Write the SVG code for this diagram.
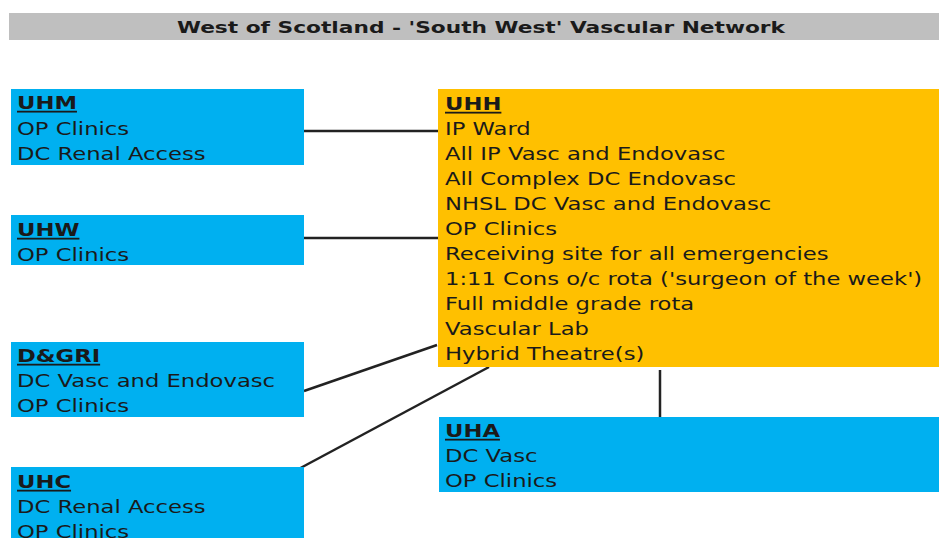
<svg xmlns="http://www.w3.org/2000/svg" width="939" height="538" viewBox="0 0 939 538">
<style>
.blue{fill:#00B0F0}
.orange{fill:#FFC000}
.t{font-family:"DejaVu Sans",Verdana,sans-serif;font-size:18px;fill:#1a1a1a}
.h{font-weight:bold;text-decoration:underline}
.c{stroke:#222;stroke-width:2.5;fill:none}
</style>
<rect x="0" y="0" width="939" height="538" fill="#fff"/>
<g id="title">
<rect x="9" y="13" width="930" height="27" fill="#BFBFBF"/>
<text x="481" y="33" text-anchor="middle" font-family="'DejaVu Sans',sans-serif" font-weight="bold" font-size="16" fill="#1a1a1a" textLength="608" lengthAdjust="spacingAndGlyphs">West of Scotland - 'South West' Vascular Network</text>
</g>
<g id="connectors">
<line class="c" x1="304" y1="131" x2="441" y2="131"/>
<line class="c" x1="304" y1="238" x2="441" y2="238"/>
<line class="c" x1="304" y1="391" x2="437" y2="345"/>
<line class="c" x1="293" y1="472" x2="489" y2="367"/>
<line class="c" x1="660" y1="370" x2="660" y2="417"/>
</g>
<g id="UHM">
<rect class="blue" x="11" y="89" width="293" height="76"/>
<g class="t" transform="translate(17,0) scale(1.26,1)">
<text class="h" x="0" y="109">UHM</text>
<text x="0" y="135">OP Clinics</text>
<text x="0" y="160">DC Renal Access</text>
</g>
</g>
<g id="UHW">
<rect class="blue" x="11" y="215" width="293" height="50"/>
<g class="t" transform="translate(17,0) scale(1.26,1)">
<text class="h" x="0" y="236">UHW</text>
<text x="0" y="261">OP Clinics</text>
</g>
</g>
<g id="DGRI">
<rect class="blue" x="11" y="342" width="293" height="75"/>
<g class="t" transform="translate(17,0) scale(1.26,1)">
<text class="h" x="0" y="362">D&amp;GRI</text>
<text x="0" y="387">DC Vasc and Endovasc</text>
<text x="0" y="412">OP Clinics</text>
</g>
</g>
<g id="UHC">
<rect class="blue" x="11" y="467" width="293" height="71"/>
<g class="t" transform="translate(17,0) scale(1.26,1)">
<text class="h" x="0" y="488">UHC</text>
<text x="0" y="513">DC Renal Access</text>
<text x="0" y="538">OP Clinics</text>
</g>
</g>
<g id="UHH">
<rect class="orange" x="438" y="89" width="501" height="278"/>
<g class="t" transform="translate(445,0) scale(1.26,1)">
<text class="h" x="0" y="110">UHH</text>
<text x="0" y="135">IP Ward</text>
<text x="0" y="160">All IP Vasc and Endovasc</text>
<text x="0" y="185">All Complex DC Endovasc</text>
<text x="0" y="210">NHSL DC Vasc and Endovasc</text>
<text x="0" y="235">OP Clinics</text>
<text x="0" y="260">Receiving site for all emergencies</text>
<text x="0" y="285">1:11 Cons o/c rota ('surgeon of the week')</text>
<text x="0" y="310">Full middle grade rota</text>
<text x="0" y="335">Vascular Lab</text>
<text x="0" y="360">Hybrid Theatre(s)</text>
</g>
</g>
<g id="UHA">
<rect class="blue" x="439" y="417" width="500" height="75"/>
<g class="t" transform="translate(445,0) scale(1.26,1)">
<text class="h" x="0" y="437">UHA</text>
<text x="0" y="462">DC Vasc</text>
<text x="0" y="487">OP Clinics</text>
</g>
</g>
</svg>
